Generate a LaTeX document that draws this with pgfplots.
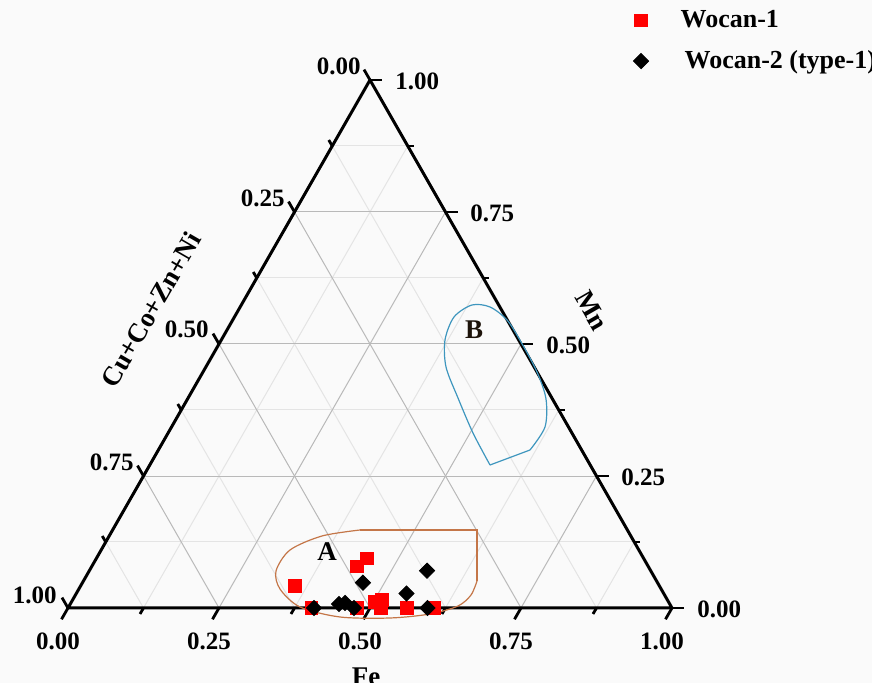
\documentclass[border=0pt]{standalone}
\usepackage{pgfplots}
\pgfplotsset{compat=1.18}
\usepackage{pgfplotstable}
\usepackage{fontspec}
\setmainfont{Liberation Serif}
\definecolor{colA}{RGB}{196,118,72}
\definecolor{colB}{RGB}{62,150,190}
\definecolor{bg}{RGB}{250,250,250}
\definecolor{majgrid}{RGB}{185,185,185}
\definecolor{mingrid}{RGB}{228,228,228}

\pgfplotstableread{
Fe Mn
0.3547 0.0422
0.4481 0.0938
0.4392 0.0786
0.4031 0.0000
0.4777 0.0000
0.5023 0.0119
0.5123 0.0152
0.5182 0.0000
0.5608 0.0000
0.6060 0.0000
}\wocanone

\pgfplotstableread{
Fe Mn
0.4073 0.0000
0.4449 0.0076
0.4539 0.0095
0.4735 0.0000
0.4644 0.0479
0.5467 0.0275
0.5591 0.0706
0.5952 0.0000
}\wocantwo

\begin{document}
\begin{tikzpicture}
\begin{axis}[
  scale only axis, width=436pt, height=341.5pt,
  xmin=0, xmax=872, ymin=0, ymax=683,
  hide axis, clip=false,
  legend style={at={(axis cs:633,677)}, anchor=north west, draw=none, fill=none,
    font=\bfseries\fontsize{13}{15}\selectfont, row sep=6pt, inner sep=0pt},
  legend cell align=left,
  /tikz/every odd column/.append style={column sep=0pt},
]
\coordinate (BL) at (axis cs:0,0);
\coordinate (TR) at (axis cs:872,683);
\fill[bg] (axis cs:0,0) rectangle (axis cs:872,683);

% grid
\pgfplotsinvokeforeach{1,3,5,7}{
  \draw[mingrid, line width=0.5pt] (axis cs:{68+604*#1/8},75) -- (axis cs:{68+604*(#1/8+0.5*(1-#1/8))},{75+528*(1-#1/8)});
  \draw[mingrid, line width=0.5pt] (axis cs:{68+302*#1/8},{75+528*#1/8}) -- (axis cs:{68+604*(1-0.5*#1/8)},{75+528*#1/8});
  \draw[mingrid, line width=0.5pt] (axis cs:{68+604*(1-#1/8)},75) -- (axis cs:{68+302*(1-#1/8)},{75+528*(1-#1/8)});
}
\pgfplotsinvokeforeach{2,4,6}{
  \draw[majgrid, line width=0.5pt] (axis cs:{68+604*#1/8},75) -- (axis cs:{68+604*(#1/8+0.5*(1-#1/8))},{75+528*(1-#1/8)});
  \draw[majgrid, line width=0.5pt] (axis cs:{68+302*#1/8},{75+528*#1/8}) -- (axis cs:{68+604*(1-0.5*#1/8)},{75+528*#1/8});
  \draw[majgrid, line width=0.5pt] (axis cs:{68+604*(1-#1/8)},75) -- (axis cs:{68+302*(1-#1/8)},{75+528*(1-#1/8)});
}

% ticks
\pgfplotsinvokeforeach{0,2,4,6,8}{
  \draw[line width=1.4pt] (axis cs:{68+604*#1/8},75) -- ++(axis direction cs:-6.5,-11.3);
  \draw[line width=1.4pt] (axis cs:{68+604*(1-0.5*#1/8)},{75+528*#1/8}) -- ++(axis direction cs:12,0);
  \draw[line width=1.4pt] (axis cs:{68+302*(1-#1/8)},{75+528*(1-#1/8)}) -- ++(axis direction cs:-6,10.4);
}
\pgfplotsinvokeforeach{1,3,5,7}{
  \draw[line width=1.4pt] (axis cs:{68+604*#1/8},75) -- ++(axis direction cs:-3.5,-6);
  \draw[line width=1.4pt] (axis cs:{68+604*(1-0.5*#1/8)},{75+528*#1/8}) -- ++(axis direction cs:6,0);
  \draw[line width=1.4pt] (axis cs:{68+302*(1-#1/8)},{75+528*(1-#1/8)}) -- ++(axis direction cs:-3.5,6);
}

% triangle
\draw[line width=1.5pt, line join=round] (axis cs:68,75) -- (axis cs:672,75) -- (axis cs:370,603) -- cycle;

% tick labels
\tikzset{tl/.style={font=\bfseries\fontsize{12.5}{14}\selectfont, inner sep=0pt}}
\node[tl] at (axis cs:58,42) {0.00};
\node[tl] at (axis cs:209,42) {0.25};
\node[tl] at (axis cs:360,42) {0.50};
\node[tl] at (axis cs:511,42) {0.75};
\node[tl] at (axis cs:662,42) {1.00};
% right (Mn)
\node[tl, anchor=west] at (axis cs:697,74) {0.00};
\node[tl, anchor=west] at (axis cs:621,206) {0.25};
\node[tl, anchor=west] at (axis cs:546,338) {0.50};
\node[tl, anchor=west] at (axis cs:470,470) {0.75};
\node[tl, anchor=west] at (axis cs:395,602) {1.00};
% left (Cu+Co+Zn+Ni)
\node[tl, anchor=south east] at (axis cs:361,608) {0.00};
\node[tl, anchor=south east] at (axis cs:285,476) {0.25};
\node[tl, anchor=south east] at (axis cs:209,345) {0.50};
\node[tl, anchor=south east] at (axis cs:134,212) {0.75};
\node[tl, anchor=south east] at (axis cs:57,79) {1.00};

% axis titles
\tikzset{ttl/.style={font=\bfseries\fontsize{13.5}{15}\selectfont, inner sep=0pt}}
\node[ttl] at (axis cs:366,6) {Fe};
\node[ttl, rotate=-60] at (axis cs:592,372) {Mn};
\node[ttl, rotate=60] at (axis cs:151,373) {Cu+Co+Zn+Ni};

% regions
\addplot[colA, line width=0.6pt, smooth, forget plot] coordinates {
 (477,102) (471,88) (458,77) (430,69) (390,65) (340,66) (300,76) (280,94) (276,112) (290,133) (322,147) (360,153)};
\addplot[colA, line width=0.6pt, forget plot] coordinates {(360,153) (477,153) (477,102)};
\addplot[colB, line width=0.6pt, smooth, forget plot] coordinates {
 (490,218) (473,250) (458,285) (446,316) (445,343) (454,366) (472,378) (490,376) (507,363) (521,341) (537,311) (546,284) (545,256) (530,233)};
\addplot[colB, line width=0.6pt, forget plot] coordinates {(530,233) (490,218)};
\node[font=\bfseries\fontsize{13.5}{15}\selectfont, inner sep=0pt] at (axis cs:327,131) {A};
\node[font=\bfseries\fontsize{13.5}{15}\selectfont, inner sep=0pt, text=black!85!brown] at (axis cs:474,353) {B};

% data
\addplot[only marks, mark=square*, mark size=3.2pt, draw=red, fill=red]
  table[x expr={68+604*(\thisrow{Fe}+0.5*\thisrow{Mn})}, y expr={75+528*\thisrow{Mn}}] {\wocanone};
\addlegendentry{\hspace{14pt}Wocan-1}
\addplot[only marks, mark=square*, mark size=2.7pt, mark options={rotate=45}, draw=black, fill=black]
  table[x expr={68+604*(\thisrow{Fe}+0.5*\thisrow{Mn})}, y expr={75+528*\thisrow{Mn}}] {\wocantwo};
\addlegendentry{\hspace{16pt}Wocan-2 (type-1)}
\end{axis}
\pgfresetboundingbox
\useasboundingbox (BL) rectangle (TR);
\end{tikzpicture}
\end{document}
